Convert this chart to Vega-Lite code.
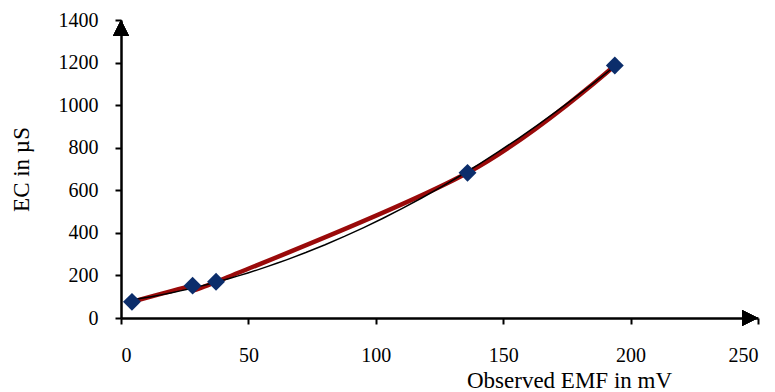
{
  "$schema": "https://vega.github.io/schema/vega-lite/v6.json",
  "autosize": "none",
  "width": 637,
  "height": 298,
  "padding": {"left": 121, "top": 20, "right": 17, "bottom": 74},
  "background": "white",
  "config": {
    "view": {"stroke": null},
    "font": "Liberation Serif",
    "axis": {
      "grid": false,
      "domainColor": "black",
      "domainWidth": 2.5,
      "tickColor": "black",
      "tickWidth": 2,
      "tickSize": 6,
      "labelFont": "Liberation Serif",
      "labelFontSize": 20,
      "labelColor": "black",
      "titleFont": "Liberation Serif",
      "titleFontWeight": "normal",
      "titleFontSize": 23,
      "titleColor": "black"
    }
  },
  "data": {
    "values": [
      {"emf": 4.3, "ec": 76},
      {"emf": 28.1, "ec": 152},
      {"emf": 37.3, "ec": 170},
      {"emf": 136, "ec": 682},
      {"emf": 193.8, "ec": 1186}
    ]
  },
  "encoding": {
    "x": {
      "field": "emf",
      "type": "quantitative",
      "scale": {"domain": [0, 250], "nice": false},
      "axis": {
        "values": [0, 50, 100, 150, 200, 250],
        "format": "d",
        "labelPadding": 21,
        "title": "Observed EMF in mV",
        "titleX": 448,
        "titleY": 69,
        "titleAlign": "center",
        "titleBaseline": "alphabetic"
      }
    },
    "y": {
      "field": "ec",
      "type": "quantitative",
      "scale": {"domain": [0, 1400], "nice": false},
      "axis": {
        "values": [0, 200, 400, 600, 800, 1000, 1200, 1400],
        "format": "d",
        "labelPadding": 17,
        "title": "EC in µS",
        "titleX": -93,
        "titleBaseline": "alphabetic"
      }
    }
  },
  "layer": [
    {
      "mark": {"type": "line", "color": "#9a0a0a", "strokeWidth": 4.5, "interpolate": "cardinal"}
    },
    {
      "transform": [
        {"regression": "ec", "on": "emf", "method": "poly", "order": 2, "extent": [4.3, 193.8]}
      ],
      "mark": {"type": "line", "color": "black", "strokeWidth": 1.5}
    },
    {
      "mark": {"type": "point", "shape": "diamond", "filled": true, "opacity": 1, "color": "#0b2d6b", "size": 320}
    },
    {
      "mark": {"type": "point", "shape": "M0,0L-0.5,1L0.5,1Z", "filled": true, "opacity": 1, "color": "black", "size": 1024},
      "encoding": {
        "x": {"datum": 0, "type": "quantitative"},
        "y": {"datum": 1400, "type": "quantitative"}
      }
    },
    {
      "mark": {"type": "point", "shape": "M0,0L-1,-0.5L-1,0.5Z", "filled": true, "opacity": 1, "color": "black", "size": 1024},
      "encoding": {
        "x": {"datum": 250, "type": "quantitative"},
        "y": {"datum": 0, "type": "quantitative"}
      }
    }
  ]
}
